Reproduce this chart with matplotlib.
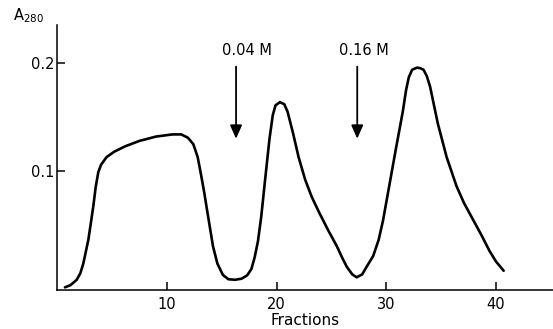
import matplotlib
matplotlib.use("Agg")
import matplotlib.pyplot as plt

plt.rcParams.update({
    "font.size": 10.5,
    "font.family": "DejaVu Sans",
    "mathtext.default": "regular",
})

# -------- elution profile --------
fraction = [0.7, 1.2, 1.77, 2.1, 2.37, 2.6, 2.83, 3.05, 3.28, 3.5, 3.74, 4.0,
            4.5, 5.2, 6.2, 7.5, 9.0, 10.5, 11.3, 11.9, 12.4, 12.8, 13.1, 13.4,
            13.7, 14.2, 14.6, 15.1, 15.6, 16.2, 16.8, 17.3, 17.7, 18.0, 18.3,
            18.6, 18.95, 19.35, 19.65, 19.9, 20.3, 20.7, 21.0, 21.5, 22.0,
            22.6, 23.2, 23.9, 24.7, 25.5, 26.0, 26.4, 26.9, 27.3, 27.8, 28.2,
            28.8, 29.3, 29.7, 30.3, 30.9, 31.5, 31.8, 32.05, 32.35, 32.8, 33.1,
            33.4, 33.7, 34.0, 34.35, 34.7, 35.5, 36.4, 37.1, 37.9, 38.7, 39.4,
            40.0, 40.7]
a280 = [-0.008, -0.006, -0.001, 0.005, 0.014, 0.025, 0.036, 0.051, 0.067,
        0.085, 0.099, 0.106, 0.113, 0.118, 0.123, 0.128, 0.132, 0.134, 0.134,
        0.131, 0.125, 0.113, 0.097, 0.080, 0.061, 0.030, 0.014, 0.0035,
        -0.0005, -0.001, 0.0, 0.003, 0.009, 0.020, 0.035, 0.058, 0.092,
        0.130, 0.152, 0.161, 0.164, 0.162, 0.155, 0.135, 0.113, 0.092, 0.076,
        0.061, 0.045, 0.030, 0.019, 0.011, 0.004, 0.0013, 0.004, 0.011,
        0.021, 0.036, 0.054, 0.088, 0.122, 0.155, 0.175, 0.187, 0.194,
        0.196, 0.1955, 0.194, 0.188, 0.178, 0.161, 0.144, 0.113, 0.086,
        0.070, 0.055, 0.040, 0.026, 0.016, 0.0074]

# -------- salt step arrows --------
step_x = [16.3, 27.35]
step_labels = ["0.04 M", "0.16 M"]
label_x = [17.3, 28.0]

x_ticks = [10, 20, 30, 40]
y_ticks = [0.1, 0.2]
y_ticklabels = ["0.1", "0.2"]

fig = plt.figure(figsize=(5.53, 3.29), dpi=100)
ax = fig.add_axes([0.1036, 0.1185, 0.8964, 0.8055])

ax.plot(fraction, a280, color="black", linewidth=1.9,
        solid_joinstyle="round", solid_capstyle="round")

for xs, lx, lab in zip(step_x, label_x, step_labels):
    ax.annotate("", xy=(xs, 0.130), xytext=(xs, 0.197),
                arrowprops=dict(arrowstyle="-|>,head_length=0.9,head_width=0.4",
                                color="black", lw=1.3, mutation_scale=9,
                                shrinkA=0, shrinkB=0))
    ax.text(lx, 0.2123, lab, ha="center", va="center")

ax.set_xlim(0, 45.2)
ax.set_ylim(-0.0105, 0.2356)

for side in ["top", "right"]:
    ax.spines[side].set_visible(False)
for side in ["left", "bottom"]:
    ax.spines[side].set_linewidth(1.1)

ax.set_xticks(x_ticks)
ax.set_yticks(y_ticks)
ax.set_yticklabels(y_ticklabels)
ax.tick_params(axis="both", direction="in", length=6, width=1.1)
ax.tick_params(axis="x", pad=5)
ax.tick_params(axis="y", pad=2)

ax.set_xlabel("Fractions", labelpad=1, fontsize=11)
fig.text(13 / 553, 1 - 20 / 329, r"A$_{280}$", ha="left", va="baseline")

fig.savefig("out.png", dpi=100)
